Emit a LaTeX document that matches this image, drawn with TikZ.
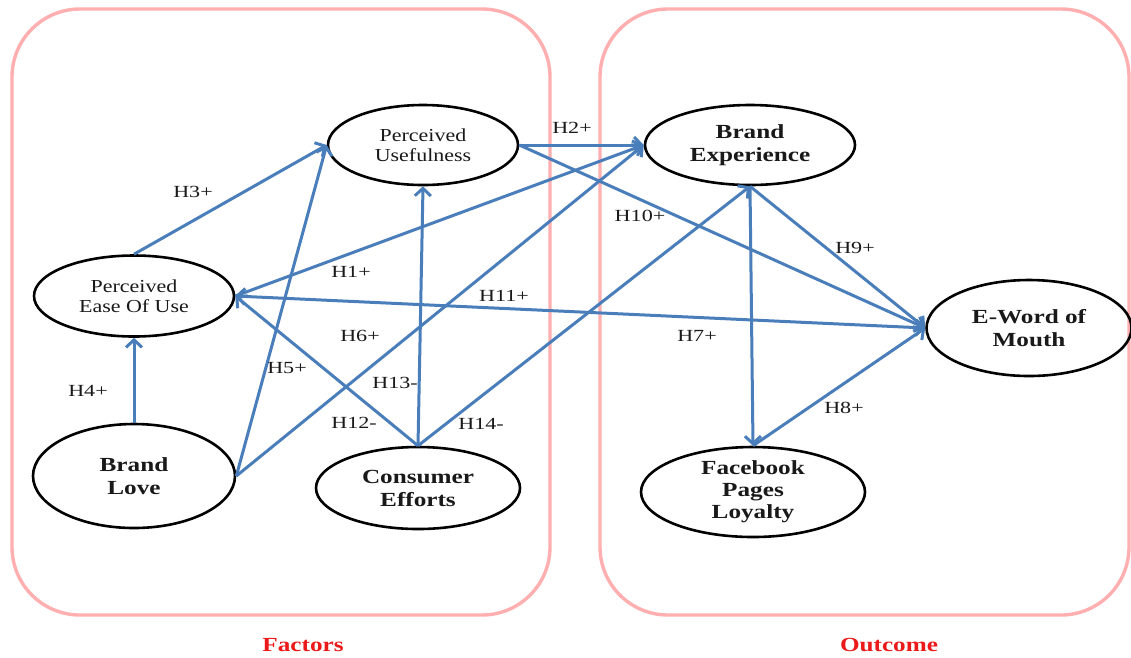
\documentclass[tikz,border=0pt]{standalone}
\usepackage{fontspec}
\setmainfont{Liberation Serif}
\newfontfamily\lblfont[FakeStretch=1.3]{Liberation Serif}
\newfontfamily\nodefont[FakeStretch=1.2]{Liberation Serif}
\newfontfamily\boldfont[FakeStretch=1.26]{Liberation Serif}
\usetikzlibrary{shapes.geometric,arrows.meta}
\definecolor{pinkline}{RGB}{255,175,175}
\definecolor{arrblue}{RGB}{74,126,187}
\definecolor{titlered}{RGB}{235,25,25}
\tikzset{
  groupbox/.style={draw=pinkline, line width=3.4pt, rounded corners=68pt},
  ell/.style={ellipse, draw=black, line width=2.6pt, inner sep=0pt, align=center, text=black!90},
  lightell/.style={ell, font=\nodefont\fontsize{18.3}{19.5}\selectfont},
  boldell/.style={ell, font=\boldfont\bfseries\fontsize{20}{23}\selectfont},
  hyp/.style={draw=arrblue, line width=3pt, -{Straight Barb[length=7.5pt,width=16pt]}},
  hyp2/.style={draw=arrblue, line width=3pt, {Straight Barb[length=7.5pt,width=16pt]}-{Straight Barb[length=7.5pt,width=16pt]}},
  lbl/.style={font=\lblfont\fontsize{17}{19}\selectfont, text=black!90, inner sep=0pt},
  grouptitle/.style={font=\boldfont\bfseries\fontsize{20}{22}\selectfont, text=titlered, inner sep=0pt}
}
\begin{document}
\begin{tikzpicture}[x=1pt,y=-1pt]
\useasboundingbox (0,0) rectangle (1131,657);
\fill[white] (0,0) rectangle (1131,657);
% group boxes
\draw[groupbox] (12,9) rectangle (550,615);
\draw[groupbox] (600,9) rectangle (1129,615);
\node[grouptitle] (factors) at (303,645) {Factors};
\node[grouptitle] (outcome) at (889,645) {Outcome};
% constructs
\node[lightell, minimum width=190pt, minimum height=80pt] (PU) at (423,145) {Perceived\\Usefulness};
\node[boldell, minimum width=210pt, minimum height=80pt] (BE) at (750,145) {Brand\\Experience};
\node[lightell, minimum width=200pt, minimum height=81pt] (PEOU) at (134,296) {Perceived\\Ease Of Use};
\node[boldell, minimum width=202pt, minimum height=104pt] (BL) at (134,476) {Brand\\Love};
\node[boldell, minimum width=204pt, minimum height=82pt] (CE) at (418,488) {Consumer\\Efforts};
\node[boldell, minimum width=205pt, minimum height=96pt] (EW) at (1029,328) {E-Word of\\Mouth};
\node[boldell, minimum width=224pt, minimum height=90pt, font=\boldfont\bfseries\fontsize{20}{22}\selectfont] (FB) at (753,492) {Facebook\\Pages\\Loyalty};
% hypotheses
\draw[hyp] (PEOU.north) -- (PU.west);
\draw[hyp] (BL.east) -- (PU.west);
\draw[hyp] (BL.east) -- (BE.west);
\draw[hyp] (PEOU.east) -- (BE.west);
\draw[hyp] (PU.east) -- (BE.west);
\draw[hyp] (PU.east) -- (EW.west);
\draw[hyp2] (PEOU.east) -- (EW.west);
\draw[hyp] (CE.north) -- (PEOU.east);
\draw[hyp] (CE.north) -- (PU.south);
\draw[hyp] (CE.north) -- (BE.south);
\draw[hyp] (BE.south) -- (EW.west);
\draw[hyp] (BE.south) -- (FB.north);
\draw[hyp] (FB.north) -- (EW.west);
\draw[hyp] (BL.north) -- (PEOU.south);
% labels
\node[lbl] (h3) at (193,192) {H3+};
\node[lbl] (h1) at (351,272) {H1+};
\node[lbl] (h11) at (504,296) {H11+};
\node[lbl] (h2) at (572,128) {H2+};
\node[lbl] (h10) at (640,216) {H10+};
\node[lbl] (h9) at (855,248) {H9+};
\node[lbl] (h7) at (697,336) {H7+};
\node[lbl] (h8) at (844,408) {H8+};
\node[lbl] (h6) at (360,336) {H6+};
\node[lbl] (h5) at (287,368) {H5+};
\node[lbl] (h4) at (88,391) {H4+};
\node[lbl] (h13) at (395,383) {H13-};
\node[lbl] (h12) at (354,423) {H12-};
\node[lbl] (h14) at (481,424) {H14-};
\end{tikzpicture}
\end{document}
